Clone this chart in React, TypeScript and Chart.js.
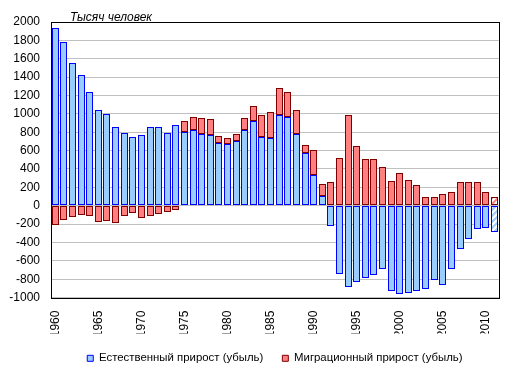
import React, { useEffect, useRef } from 'react';
import { Chart, registerables } from 'chart.js';

Chart.register(...registerables);

const years = [
  '1960', '1961', '1962', '1963', '1964', '1965', '1966', '1967', '1968', '1969',
  '1970', '1971', '1972', '1973', '1974', '1975', '1976', '1977', '1978', '1979',
  '1980', '1981', '1982', '1983', '1984', '1985', '1986', '1987', '1988', '1989',
  '1990', '1991', '1992', '1993', '1994', '1995', '1996', '1997', '1998', '1999',
  '2000', '2001', '2002', '2003', '2004', '2005', '2006', '2007', '2008', '2009',
  '2010', '2011',
];

const naturalGrowth = [
  1930, 1786, 1556, 1422, 1242, 1044, 1000, 852, 797, 753,
  775, 852, 852, 797, 874, 808, 819, 786, 775, 688,
  676, 709, 819, 918, 753, 742, 984, 962, 786, 578,
  337, 106, -222, -738, -881, -826, -782, -749, -694, -924,
  -957, -946, -924, -902, -804, -858, -694, -475, -365, -255,
  -244, -288,
];

const migrationGrowth = [
  -208, -153, -124, -102, -113, -179, -168, -190, -113, -80,
  -135, -113, -91, -69, -47, 110, 143, 165, 165, 76,
  66, 77, 132, 164, 231, 274, 296, 274, 252, 88,
  274, 132, 260, 523, 984, 655, 512, 512, 424, 271,
  359, 282, 227, 95, 95, 128, 150, 260, 260, 260,
  150, 95,
];

const estimateYears = ['2011'];
const labelStepYears = 5;
const yMin = -1000;
const yMax = 2000;
const yStep = 200;

const seriesNames = ['Естественный прирост (убыль)', 'Миграционный прирост (убыль)'];
const unitTitle = 'Тысяч человек';

const FONT = "'Liberation Sans', Arial, sans-serif";

function makeHatch(stripe: string): CanvasPattern | string {
  const c = document.createElement('canvas');
  c.width = 6;
  c.height = 6;
  const x = c.getContext('2d');
  if (!x) return stripe;
  x.fillStyle = '#ffffff';
  x.fillRect(0, 0, 6, 6);
  x.strokeStyle = stripe;
  x.lineWidth = 2;
  x.beginPath();
  x.moveTo(-1, 7);
  x.lineTo(7, -1);
  x.moveTo(-1, 1);
  x.lineTo(1, -1);
  x.moveTo(5, 7);
  x.lineTo(7, 5);
  x.stroke();
  const p = x.createPattern(c, 'repeat');
  return p || stripe;
}

export default function App() {
  const ref = useRef<HTMLCanvasElement | null>(null);

  useEffect(() => {
    if (!ref.current) return;
    const blueFill = '#99CCFF';
    const blueLine = '#0000FF';
    const redFill = '#FF8080';
    const redLine = '#800000';
    const blueHatch = makeHatch('#99CCFF');
    const redHatch = makeHatch('#FF8080');

    const isEstimate = (i: number | undefined) =>
      i !== undefined && estimateYears.includes(years[i]);

    // snap library-computed bar geometry to whole pixels for crisp borders
    const snapPlugin = {
      id: 'snapBars',
      beforeDatasetsDraw(chart: any) {
        chart.getSortedVisibleDatasetMetas().forEach((meta: any) => {
          meta.data.forEach((el: any) => {
            el.x = Math.floor(el.x) + 0.5;
            el.width = 7;
            el.y = Math.round(el.y);
            el.base = Math.round(el.base);
          });
        });
      },
    };

    const framePlugin = {
      id: 'frameAndTitle',
      afterDraw(chart: any) {
        const { ctx, chartArea } = chart;
        const { left, top, right, bottom } = chartArea;
        ctx.save();
        ctx.strokeStyle = '#000';
        ctx.lineWidth = 1;
        const l = Math.round(left) + 0.5;
        const t = Math.round(top) + 0.5;
        const r = Math.round(right) + 0.5;
        const b = Math.round(bottom) + 0.5;
        ctx.strokeRect(l, t, r - l, b - t);
        ctx.fillStyle = '#000';
        ctx.font = `italic 12px ${FONT}`;
        ctx.textAlign = 'left';
        ctx.textBaseline = 'alphabetic';
        ctx.fillText(unitTitle, left + 19, top - 1);
        ctx.restore();
      },
    };

    const chart = new Chart(ref.current, {
      type: 'bar',
      data: {
        labels: years,
        datasets: [
          {
            label: seriesNames[0],
            data: naturalGrowth,
            backgroundColor: (c: any) => (isEstimate(c.dataIndex) ? blueHatch : blueFill),
            borderColor: blueLine,
            borderWidth: 1,
            borderSkipped: false,
            barPercentage: 0.8,
            categoryPercentage: 1,
          },
          {
            label: seriesNames[1],
            data: migrationGrowth,
            backgroundColor: (c: any) => (isEstimate(c.dataIndex) ? redHatch : redFill),
            borderColor: redLine,
            borderWidth: 1,
            borderSkipped: false,
            barPercentage: 0.8,
            categoryPercentage: 1,
          },
        ],
      },
      options: {
        animation: false,
        responsive: false,
        maintainAspectRatio: false,
        layout: { padding: { top: 22, right: 11, bottom: 3, left: 0 } },
        font: { family: FONT, size: 12 },
        plugins: {
          legend: {
            position: 'bottom',
            fullSize: false,
            labels: {
              boxWidth: 6,
              boxHeight: 6,
              padding: 19,
              color: '#000',
              font: { family: FONT, size: 11.4 },
            },
          },
          tooltip: { enabled: false },
          title: { display: false },
        },
        scales: {
          x: {
            stacked: true,
            grid: { display: false, drawTicks: false },
            border: { display: false },
            ticks: {
              autoSkip: false,
              maxRotation: 90,
              minRotation: 90,
              padding: 13,
              color: '#000',
              font: { family: FONT, size: 12 },
              callback: (_v: any, i: number) =>
                Number(years[i]) % labelStepYears === 0 ? years[i] : '',
            },
            afterFit: (s: any) => {
              s.height = 36;
            },
          },
          y: {
            stacked: true,
            min: yMin,
            max: yMax,
            grid: { color: '#C0C0C0', drawTicks: false, lineWidth: 1 },
            border: { display: false },
            ticks: {
              stepSize: yStep,
              padding: 11,
              color: '#000',
              font: { family: FONT, size: 12 },
              callback: (v: any) => String(v),
            },
            afterFit: (s: any) => {
              s.width = 51;
            },
          },
        },
      } as any,
      plugins: [snapPlugin, framePlugin],
    });

    return () => chart.destroy();
  }, []);

  return (
    <div style={{ position: 'absolute', left: 0, top: 0, width: 522, height: 377, background: '#fff' }}>
      <canvas ref={ref} width={522} height={377} style={{ width: 522, height: 377 }} />
    </div>
  );
}
